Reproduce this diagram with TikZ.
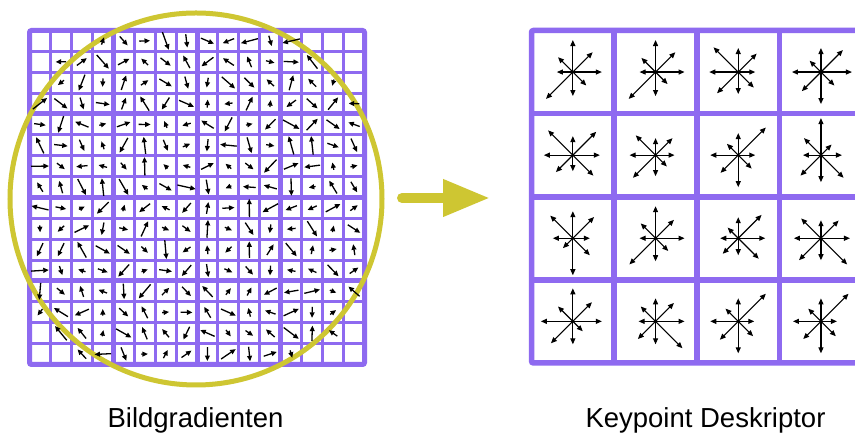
\documentclass[tikz,border=0pt]{standalone}
\usepackage{fontspec}
\setmainfont{Liberation Sans}
\usetikzlibrary{arrows.meta, calc, positioning}
\definecolor{gridpurple}{RGB}{142,106,240}
\definecolor{windowyellow}{RGB}{206,198,50}
\tikzset{
    thin grid/.style = {gridpurple, line width=3pt},
    thick grid/.style = {gridpurple, line width=5pt},
    gradient/.style = {black, line width=1.3pt, -{Triangle[length=5.5pt,width=4.8pt]}},
    bin arrow/.style = {black, line width=1.1pt, -{Triangle[length=6pt,width=5pt]}},
    caption/.style = {font=\fontsize{27.5}{30}\selectfont, anchor=base}
}

\begin{document}
\begin{tikzpicture}[x=1pt, y=1pt]
    \fill[white] (0,0) rectangle (855,435);
    \useasboundingbox (0,0) rectangle (855,435);
    \clip (0,0) rectangle (855,435);

    % sample grid, 16x16
    \coordinate (gl) at (29.5, 70.5);
    \coordinate (gr) at (364.5, 404.5);
    \coordinate (C) at (196, 236);

    \foreach \k in {1,...,15}{
        \pgfmathsetmacro\p{29.5+\k*20.9375}
        \pgfmathsetmacro\q{70.5+\k*20.875}
        \draw[thin grid] (\p,70.5) -- (\p,404.5);
        \draw[thin grid] (29.5,\q) -- (364.5,\q);
    }
    \foreach \k in {4,8,12}{
        \pgfmathsetmacro\p{29.5+\k*20.9375}
        \pgfmathsetmacro\q{70.5+\k*20.875}
        \draw[thick grid] (\p,70.5) -- (\p,404.5);
        \draw[thick grid] (29.5,\q) -- (364.5,\q);
    }
    \draw[thick grid, rounded corners=2pt] (gl) rectangle (gr);

    % gaussian window
    \draw[windowyellow, line width=5pt] (C) circle (186);

    % one gradient per sample inside the window
    \pgfmathsetseed{4711}
    \foreach \i in {0,...,15}{
        \foreach \j in {0,...,15}{
            \pgfmathsetmacro\cx{29.5+(\i+0.5)*20.9375}
            \pgfmathsetmacro\cy{70.5+(\j+0.5)*20.875}
            \pgfmathsetmacro\a{360*rnd}
            \pgfmathsetmacro\l{6+13*rnd}
            \pgfmathtruncatemacro\inside{veclen(\cx-196,\cy-236)<193}
            \ifnum\inside=1
                \draw[gradient] ($(\cx,\cy)+(\a:-0.5*\l)$) -- ++(\a:\l);
            \fi
        }
    }

    % arrow between the two halves
    \coordinate (a0) at (402,237);
    \coordinate (a1) at (490,237);
    \draw[windowyellow, line width=10pt, line cap=round,
          -{Triangle[length=47pt,width=35pt]}] (a0) -- (a1);

    % descriptor grid, 4x4
    \coordinate (dl) at (531.5, 72);
    \coordinate (dr) at (862.3, 404.5);
    \foreach \k in {1,2,3}{
        \pgfmathsetmacro\p{531.5+\k*82.7}
        \pgfmathsetmacro\q{72+\k*83.1}
        \draw[gridpurple, line width=5.5pt] (\p,72) -- (\p,404.5);
        \draw[gridpurple, line width=5.5pt] (531.5,\q) -- (862.3,\q);
    }
    \draw[gridpurple, line width=5.5pt, rounded corners=2pt] (dl) rectangle (dr);

    % orientation histograms: E, NE, N, NW, W, SW, S, SE
    \foreach \r/\c/\lens in {
        1/1/{29,28,32,21,16,38,24,19}, 1/2/{29,28,32,20,16,38,24,17},
        1/3/{17,26,24,35,29,30,22,22}, 1/4/{31,31,24,16,29,27,32,19},
        2/1/{27,33,19,35,29,24,16,29}, 2/2/{19,24,17,28,26,32,21,16},
        2/3/{17,39,22,16,28,25,32,19}, 2/4/{21,15,37,24,18,29,27,32},
        3/1/{17,30,27,32,20,14,37,24}, 3/2/{29,26,32,21,16,37,23,18},
        3/3/{27,33,21,15,18,22,17,29}, 3/4/{29,25,18,28,27,31,22,37},
        4/1/{29,27,33,21,32,31,23,14}, 4/2/{29,26,23,21,17,25,23,38},
        4/3/{16,39,23,18,28,26,32,21}, 4/4/{16,39,23,18,28,25,32,21}}{
        \coordinate (bin) at (531.5+\c*82.7-41.35, 404.5-\r*83.1+41.55);
        \foreach \l [count=\k from 0] in \lens
            \draw[bin arrow] (bin) -- ++(\k*45:\l);
    }

    \node[caption] (grads) at (195.5,7) {Bildgradienten};
    \node[caption] (desc) at (705.5,7) {Keypoint Deskriptor};
\end{tikzpicture}
\end{document}
